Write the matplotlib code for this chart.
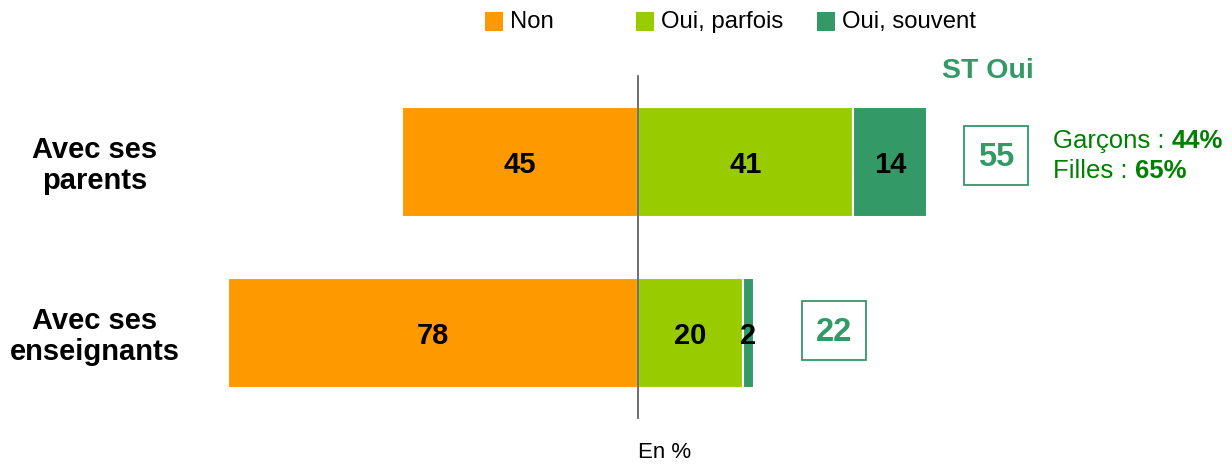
import matplotlib
matplotlib.use("Agg")
import matplotlib.pyplot as plt
from matplotlib.patches import Rectangle

plt.rcParams["font.family"] = ["Liberation Sans", "DejaVu Sans"]

categories = ["Avec ses\nparents", "Avec ses\nenseignants"]
non = [45, 78]
parfois = [41, 20]
souvent = [14, 2]
st_oui = [55, 22]
legend_labels = ["Non", "Oui, parfois", "Oui, souvent"]
garcons = "44%"
filles = "65%"

ORANGE = "#FF9900"
LIGHT = "#99CC00"
DARK = "#339966"
TEXT_GREEN = "#008000"

fig = plt.figure(figsize=(12.32, 4.66), dpi=100)
ax = fig.add_axes([0, 0, 1, 1])
ax.set_xlim(-121.5, 113.1)
ax.set_ylim(1.778, -0.947)
ax.axis("off")

ys = list(range(len(categories)))
h = 0.643
neg = [-v for v in non]
ax.barh(ys, neg, height=h, color=ORANGE, edgecolor="white", linewidth=1.5)
ax.barh(ys, parfois, height=h, color=LIGHT, edgecolor="white", linewidth=1.5)
ax.barh(ys, souvent, left=parfois, height=h, color=DARK, edgecolor="white", linewidth=1.5)

ax.plot([0, 0], [-0.5, 1.5], color="#555555", lw=1.2)

box_gap = [13.1, 15.4]   # distance from bar end to box centre
box_dy = [-0.035, -0.012]
for i in ys:
    ty = i + 0.02
    ax.text(-non[i] / 2, ty, str(non[i]), ha="center", va="center",
            fontsize=21, fontweight="bold")
    ax.text(parfois[i] / 2, ty, str(parfois[i]), ha="center", va="center",
            fontsize=21, fontweight="bold")
    ax.text(parfois[i] + souvent[i] / 2, ty, str(souvent[i]), ha="center",
            va="center", fontsize=21, fontweight="bold")
    ax.text(-103.5, i + 0.02, categories[i], ha="center", va="center",
            fontsize=21, fontweight="bold", linespacing=1.15)

    # ST Oui box
    end = parfois[i] + souvent[i]
    cx = end + box_gap[i]
    cy = i + box_dy[i]
    bw, bh = 12.2, 0.345
    ax.add_patch(Rectangle((cx - bw / 2, cy - bh / 2), bw, bh, fill=False,
                           edgecolor=DARK, lw=1.3))
    ax.text(cx, cy + 0.01, str(st_oui[i]), ha="center", va="center",
            fontsize=23.5, fontweight="bold", color=DARK)
    if i == 0:
        ax.text(cx - 1.4, -0.53, "ST Oui", ha="center", va="center",
                fontsize=20.5, fontweight="bold", color=DARK)
        t1 = ax.text(cx + 10.9, i - 0.12, "Garçons : ", ha="left",
                     va="center", fontsize=18.5, color=TEXT_GREEN)
        ax.annotate(garcons, xy=(1, 0), xycoords=t1, va="bottom",
                    fontsize=18.5, fontweight="bold", color=TEXT_GREEN)
        t2 = ax.text(cx + 10.9, i + 0.055, "Filles : ", ha="left",
                     va="center", fontsize=18.5, color=TEXT_GREEN)
        ax.annotate(filles, xy=(1, 0), xycoords=t2, va="bottom",
                    fontsize=18.5, fontweight="bold", color=TEXT_GREEN)

# legend drawn by hand
leg_x = [485, 636, 817]
leg_colors = [ORANGE, LIGHT, DARK]
for x, c, lab in zip(leg_x, leg_colors, legend_labels):
    fig.patches.append(Rectangle((x / 1232, 1 - 31 / 466), 18 / 1232, 19 / 466,
                                 transform=fig.transFigure, facecolor=c,
                                 edgecolor="none"))
    fig.text((x + 25) / 1232, 1 - 22 / 466, lab, ha="left", va="center",
             fontsize=17.2)

fig.text(638 / 1232, 1 - 452 / 466, "En %", ha="left", va="center", fontsize=16)

fig.savefig("out.png", dpi=100)
